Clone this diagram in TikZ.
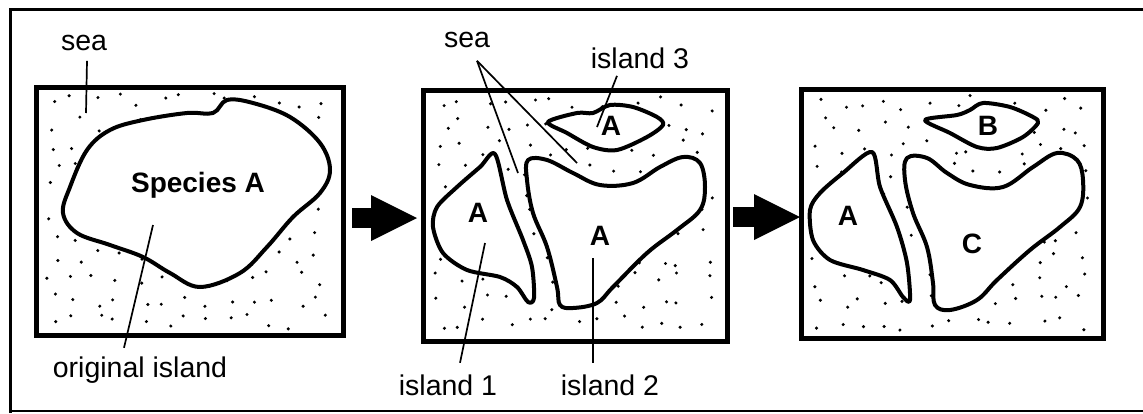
\documentclass[tikz,border=0pt]{standalone}
\usepackage{fontspec}
\setmainfont{Liberation Sans}
\usetikzlibrary{arrows.meta}
\begin{document}
\begin{tikzpicture}[x=1pt, y=-1pt, every node/.style={font=\fontsize{28.5}{32}\selectfont},
  seabox/.style={draw,line width=5pt,inner sep=0pt,outer sep=0pt},
  isle/.style={draw,fill=white,line width=4pt,line join=round},
  tag/.style={font=\fontsize{28}{32}\selectfont\bfseries,anchor=base},
  lbl/.style={anchor=base},
  leader/.style={line width=1.7pt},
  bigarrow/.style={line width=20pt,-{Triangle[width=46pt,length=46pt,line width=0pt 0 0]}}]
  \useasboundingbox (0,0) rectangle (1143,413);
  \draw[line width=3pt] (1143,9) -- (10,9) -- (10,413);
  \draw[line width=2pt] (10,411) -- (1143,411);
  \node[seabox,minimum width=307pt,minimum height=248pt] (box1) at (189.5,211) {};
  \node[seabox,minimum width=304pt,minimum height=251pt] (box2) at (575,215.5) {};
  \node[seabox,minimum width=302pt,minimum height=249pt] (box3) at (952,213.5) {};
  % sea dots
  \pgfmathsetseed{42}
  \foreach \bx/\by in {36/87, 423/90, 801/89}
    \foreach \i in {0,...,12}
      \foreach \j in {0,...,10}
        \fill ({\bx+18+\i*22+8*rand},{\by+14+\j*22+8*rand}) circle (1.7pt);
  % islands
  \draw[isle] plot[smooth cycle,tension=0.6] coordinates {(213,113) (227,100) (253,103) (290,117) (320,143) (330,170) (320,193) (293,217) (267,247) (240,273) (200,287) (170,273) (143,257) (110,245) (77,233) (63,213) (70,187) (87,150) (110,130) (143,120) (187,113)};
  \draw[isle] plot[smooth cycle,tension=0.5] coordinates {(495,154) (507,200) (523,240) (532,267) (534,298) (528,302) (517,287) (500,277) (467,270) (443,253) (433,227) (437,207) (457,187) (480,167)};
  \draw[isle] plot[smooth cycle,tension=0.6] coordinates {(528,160) (547,160) (573,173) (600,185) (633,183) (660,167) (683,157) (700,163) (705,187) (700,210) (677,230) (647,253) (613,287) (597,303) (573,308) (560,305) (557,287) (547,247) (533,213) (527,180)};
  \draw[isle] plot[smooth cycle,tension=0.5] coordinates {(548,122) (577,113) (593,113) (610,105) (633,107) (657,117) (663,125) (647,137) (617,150) (593,147) (567,133)};
  \draw[isle] plot[smooth cycle,tension=0.5] coordinates {(872,152) (880,187) (897,227) (907,263) (910,300) (903,297) (890,280) (863,270) (830,260) (813,240) (810,210) (820,193) (843,173)};
  \draw[isle] plot[smooth cycle,tension=0.6] coordinates {(907,158) (927,158) (947,173) (970,185) (1003,187) (1033,167) (1057,153) (1077,160) (1083,180) (1080,207) (1060,227) (1030,250) (997,280) (977,300) (950,310) (935,305) (933,283) (927,247) (913,213) (905,180)};
  \draw[isle] plot[smooth cycle,tension=0.5] coordinates {(925,120) (957,115) (970,110) (983,103) (1010,107) (1033,117) (1038,123) (1023,137) (997,148) (977,147) (950,133)};
  % species tags
  \node[tag] (spA) at (198,192) {Species A};
  \node[tag] (a1) at (478,222) {A};
  \node[tag] (a2) at (600,245) {A};
  \node[tag] (a3) at (611,135) {A};
  \node[tag] (tA) at (848,225) {A};
  \node[tag] (tB) at (988,135) {B};
  \node[tag] (tC) at (972,253) {C};
  % labels and leaders
  \node[lbl] (sea) at (84,50) {sea};
  \node[lbl] (original) at (140,377) {original island};
  \node[lbl] (seatwo) at (467,47) {sea};
  \node[lbl] (isl3) at (640,68) {island 3};
  \node[lbl] (isl1) at (448,395) {island 1};
  \node[lbl] (isl2) at (610,395) {island 2};
  \coordinate (seap) at (86,113);
  \coordinate (origp) at (153,225);
  \coordinate (chan) at (518,173);
  \coordinate (strait) at (577,163);
  \coordinate (isl3p) at (597,127);
  \coordinate (isl1p) at (485,243);
  \coordinate (isl2p) at (593,258);
  \draw[leader] ([xshift=3pt,yshift=-7pt]sea.south) -- (seap);
  \draw[leader] ([xshift=-16pt,yshift=5pt]original.north) -- (origp);
  \draw[leader] ([xshift=10pt,yshift=-10pt]seatwo.south) -- (chan);
  \draw[leader] ([xshift=10pt,yshift=-10pt]seatwo.south) -- (strait);
  \draw[leader] ([xshift=-23pt,yshift=-4pt]isl3.south) -- (isl3p);
  \draw[leader] ([xshift=12pt,yshift=8pt]isl1.north) -- (isl1p);
  \draw[leader] ([xshift=-17pt,yshift=8pt]isl2.north) -- (isl2p);
  % big arrows
  \draw[bigarrow] ([xshift=9pt,yshift=-7pt]box1.east) -- ([xshift=-6pt,yshift=-2.5pt]box2.west);
  \draw[bigarrow] ([xshift=6pt,yshift=-1.5pt]box2.east) -- ([xshift=-1pt,yshift=-3.5pt]box3.west);
\end{tikzpicture}
\end{document}
